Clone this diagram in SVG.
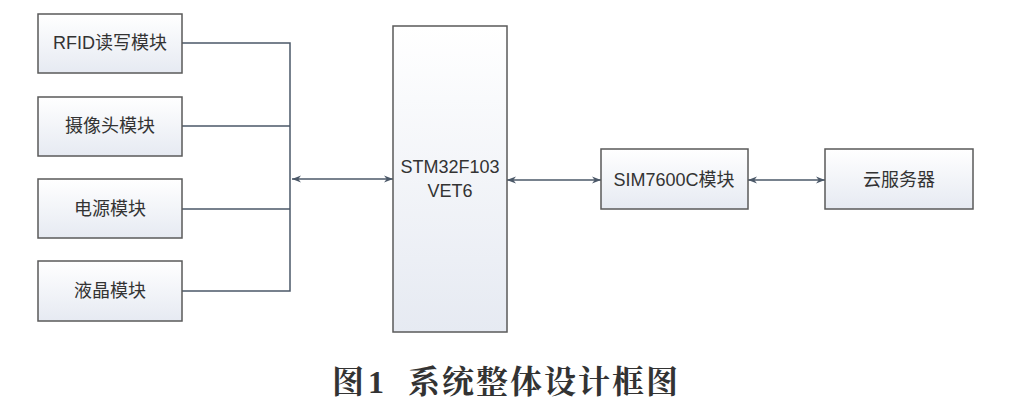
<svg xmlns="http://www.w3.org/2000/svg" width="1016" height="405" viewBox="0 0 1016 405">
<defs>
<linearGradient id="g" x1="0" y1="0" x2="0" y2="1">
<stop offset="0" stop-color="#ffffff"/>
<stop offset="1" stop-color="#e6eaf2"/>
</linearGradient>
<marker id="ah" viewBox="0 0 10 10" refX="10" refY="5" markerWidth="9" markerHeight="9" orient="auto-start-reverse" markerUnits="userSpaceOnUse">
<path d="M0,1 L10,5 L0,9 L3,5 Z" fill="#4b5868"/>
</marker>
<style>
.box{fill:url(#g);stroke:#5a5a5a;stroke-width:1.5}
.t{font-family:"Liberation Sans","Noto Sans CJK SC",sans-serif;font-size:18px;fill:#333;text-anchor:middle;dominant-baseline:central}
.ln{fill:none;stroke:#4b5868;stroke-width:1.5}
.cap{font-family:"Liberation Serif","Noto Serif CJK SC","Noto Sans CJK SC",serif;font-size:32px;font-weight:bold;fill:#333;letter-spacing:2px}
</style>
</defs>
<rect width="1016" height="405" fill="#fff"/>
<g id="connectors">
<path class="ln" d="M182,43 H290 V291 H182 M182,126 H290 M182,209 H290"/>
<line class="ln" x1="292" y1="179" x2="393" y2="179" marker-start="url(#ah)" marker-end="url(#ah)"/>
<line class="ln" x1="507" y1="180" x2="601" y2="180" marker-start="url(#ah)" marker-end="url(#ah)"/>
<line class="ln" x1="748" y1="180" x2="825" y2="180" marker-start="url(#ah)" marker-end="url(#ah)"/>
</g>
<g id="rfid"><rect class="box" x="38" y="14" width="144" height="59"/><text class="t" x="110" y="43">RFID读写模块</text></g>
<g id="camera"><rect class="box" x="38" y="97" width="144" height="59"/><text class="t" x="110" y="126">摄像头模块</text></g>
<g id="power"><rect class="box" x="38" y="179" width="144" height="59"/><text class="t" x="110" y="209">电源模块</text></g>
<g id="lcd"><rect class="box" x="38" y="261" width="144" height="60"/><text class="t" x="110" y="291">液晶模块</text></g>
<g id="stm32"><rect class="box" x="393" y="26" width="114" height="306"/><text class="t" x="450" y="167">STM32F103</text><text class="t" x="450" y="191">VET6</text></g>
<g id="sim7600c"><rect class="box" x="601" y="149" width="147" height="60"/><text class="t" x="674" y="180">SIM7600C模块</text></g>
<g id="cloud"><rect class="box" x="825" y="149" width="148" height="60"/><text class="t" x="899" y="180">云服务器</text></g>
<text class="cap" x="332" y="393">图<tspan x="368">1</tspan></text>
<text class="cap" x="408" y="393">系统整体设计框图</text>
</svg>
